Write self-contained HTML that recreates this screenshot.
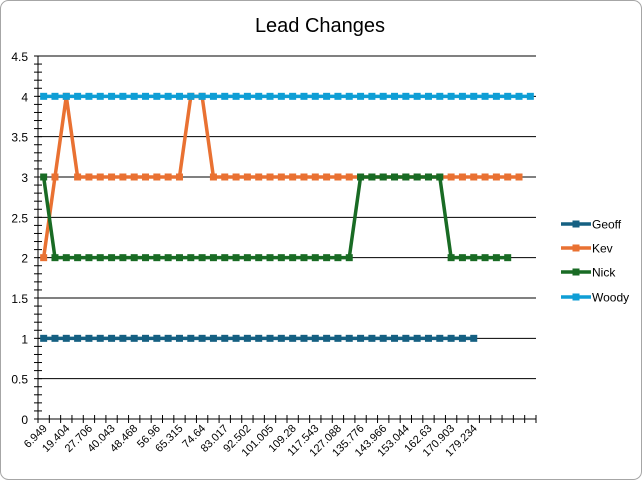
<!DOCTYPE html>
<html><head><meta charset="utf-8"><style>
html,body{margin:0;padding:0;background:#fff;}
svg{display:block;font-family:"Liberation Sans",sans-serif;}
</style></head><body>
<svg id="chart" width="642" height="480" xmlns="http://www.w3.org/2000/svg">
<rect x="0.5" y="0.5" width="641" height="479" rx="8" fill="#fff" stroke="#a6a6a6"/>
<text x="320" y="32" text-anchor="middle" font-size="20" fill="#000">Lead Changes</text>
<g id="grid"></g><g id="axes"></g><g id="series"></g><g id="legend"></g>
</svg>
<script>
const categoryLabels = ["6.949","19.404","27.706","40.043","48.468","56.96","65.315","74.64","83.017","92.502","101.005","109.28","117.543","127.088","135.776","143.966","153.044","162.63","170.903","179.234"];
const categoryCount = 44;
const geoff = Array(39).fill(1);
const kev = [2,3,4,3,3,3,3,3,3,3,3,3,3,4,4,3,3,3,3,3,3,3,3,3,3,3,3,3,3,3,3,3,3,3,3,3,3,3,3,3,3,3,3];
const nick = [3,2,2,2,2,2,2,2,2,2,2,2,2,2,2,2,2,2,2,2,2,2,2,2,2,2,2,2,3,3,3,3,3,3,3,3,2,2,2,2,2,2];
const woody = Array(44).fill(4);
const yTicks = [0,0.5,1,1.5,2,2.5,3,3.5,4,4.5];
const seriesNames = ["Geoff","Kev","Nick","Woody"];

const NS="http://www.w3.org/2000/svg";
const X0=38,X1=536,Y0=419,Y1=56,YMAX=4.5;
const step=(X1-X0)/categoryCount;
const xs=i=>X0+step*(i+0.5);
const ys=v=>Y0-(Y0-Y1)*v/YMAX;
function mk(tag,attrs,parent){const e=document.createElementNS(NS,tag);for(const k in attrs)e.setAttribute(k,attrs[k]);parent.appendChild(e);return e;}
const grid=document.getElementById('grid'),axes=document.getElementById('axes'),sg=document.getElementById('series'),lg=document.getElementById('legend');
yTicks.forEach(v=>{
  if(v>0){const l=mk('line',{x1:X0,x2:X1,y1:ys(v),y2:ys(v),stroke:'#000','stroke-width':1},grid);
  
  }
  const t=mk('text',{x:28,y:ys(v)+5,'text-anchor':'end','font-size':12,fill:'#000'},axes);
  t.textContent=String(v);
  
  
});
const ya=mk('line',{x1:X0,x2:X0,y1:Y1,y2:Y0,stroke:'#000','stroke-width':1},axes);


for(let v=0;v<=YMAX+1e-9;v+=0.1){mk('line',{x1:X0-4,x2:X0+4,y1:ys(v),y2:ys(v),stroke:'#000'},axes);}
const xa=mk('line',{x1:X0,x2:X1,y1:Y0,y2:Y0,stroke:'#000','stroke-width':1},axes);


for(let i=0;i<=categoryCount;i++){mk('line',{x1:X0+step*i,x2:X0+step*i,y1:Y0-4,y2:Y0+4,stroke:'#000'},axes);}
categoryLabels.forEach((lab,j)=>{
  const x=xs(j*2)+4,y=Y0+10;
  const t=mk('text',{x:x,y:y,'text-anchor':'end','font-size':11,fill:'#000',transform:`rotate(-45 ${x} ${y})`},axes);
  t.textContent=lab;
  
  
});
const data=[geoff,kev,nick,woody];
const colors=["#156082","#e97132","#196b24","#0f9ed5"];
data.forEach((arr,s)=>{
  const g=mk('g',{},sg);
  
  
  mk('polyline',{points:arr.map((v,i)=>xs(i)+','+ys(v)).join(' '),fill:'none',stroke:colors[s],'stroke-width':3.5,'stroke-linejoin':'round'},g);
  arr.forEach((v,i)=>{const r=mk('rect',{x:xs(i)-3.5,y:ys(v)-3.5,width:7,height:7,fill:colors[s]},g);
  
  });
});
const ly=[224,248,272,297];
seriesNames.forEach((n,s)=>{
  const g=mk('g',{},lg);
  
  
  mk('line',{x1:561,x2:591,y1:ly[s],y2:ly[s],stroke:colors[s],'stroke-width':3.5},g);
  mk('rect',{x:572.5,y:ly[s]-3.5,width:7,height:7,fill:colors[s]},g);
  const t=mk('text',{x:592,y:ly[s]+4.5,'font-size':12,fill:'#000'},g);t.textContent=n;
});
</script>
</body></html>
